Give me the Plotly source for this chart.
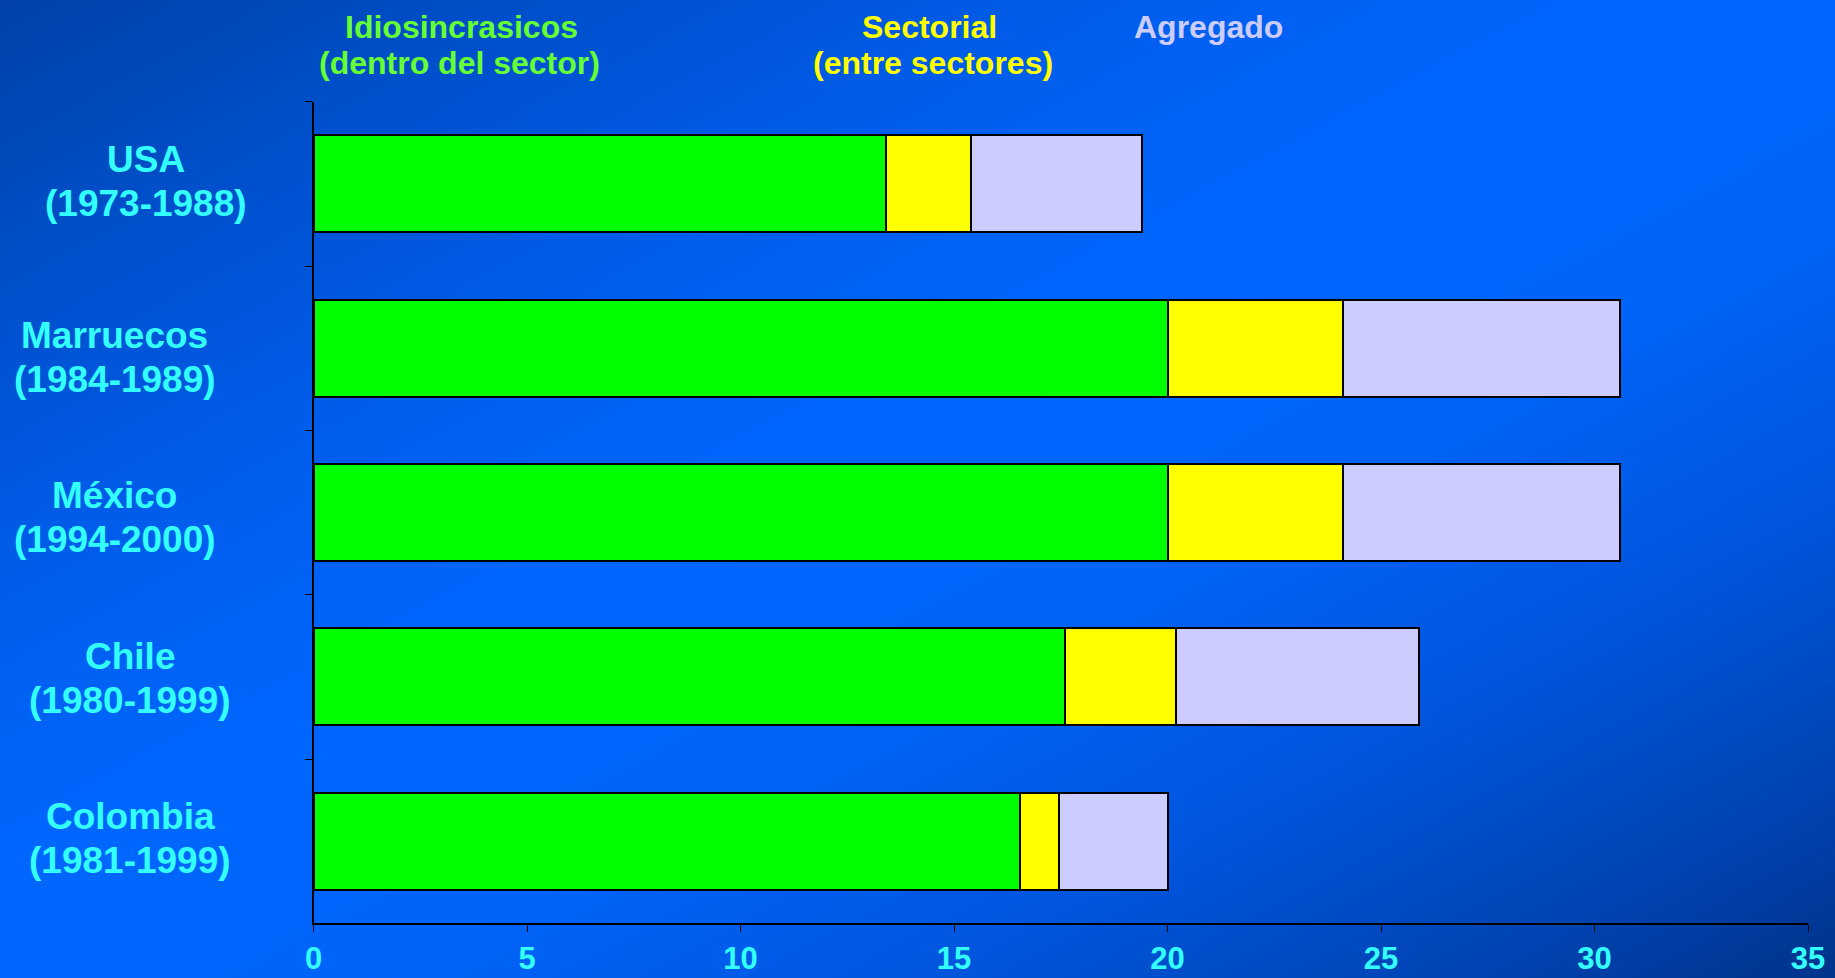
import numpy as np
import plotly.graph_objects as go

# ---- data ----
countries = ["USA", "Marruecos", "México", "Chile", "Colombia"]
periods = ["(1973-1988)", "(1984-1989)", "(1994-2000)", "(1980-1999)", "(1981-1999)"]
categories = [c + " " + p for c, p in zip(countries, periods)]
idiosincrasicos = [13.4, 20.0, 20.0, 17.6, 16.55]
sectorial = [2.0, 4.1, 4.1, 2.6, 0.9]
agregado = [4.0, 6.5, 6.5, 5.7, 2.55]
x_ticks = [0, 5, 10, 15, 20, 25, 30, 35]

series_names = ["Idiosincrasicos", "Sectorial", "Agregado"]
series_sub = ["(dentro del sector)", "(entre sectores)", ""]

# ---- styling ----
W, H = 1835, 978
FONT = "Arial, Liberation Sans, sans-serif"
fill_colors = ["#00FF00", "#FFFF00", "#CCCCFF"]
legend_colors = ["#66FF33", "#FFFF00", "#CCCCFF"]
cyan = "#33FFFF"

fig = go.Figure()

# background gradient (diagonal) drawn as a smooth heatmap on full-paper axes
n = 30
gx = np.linspace(0, 1, n)
gy = np.linspace(0, 1, n)
GX, GY = np.meshgrid(gx, gy)
T = (GX + (1 - GY)) / 2
fig.add_trace(go.Heatmap(
    x=gx, y=gy, z=T, zsmooth="best", showscale=False, hoverinfo="skip",
    zmin=0, zmax=1,
    colorscale=[[0, "#0042A8"], [0.15, "#004FCB"], [0.3, "#005DEB"],
                [0.45, "#0066FF"], [0.6, "#0064FA"], [0.75, "#0056DE"],
                [0.9, "#0043B2"], [1, "#00338A"]],
    xaxis="x", yaxis="y"))

for vals, name, col in zip([idiosincrasicos, sectorial, agregado], series_names, fill_colors):
    fig.add_trace(go.Bar(
        y=categories, x=vals, orientation="h", name=name,
        marker=dict(color=col, line=dict(color="black", width=2)),
        xaxis="x2", yaxis="y2", showlegend=False))

x0, x1 = 313.6 / W, 1808 / W
y0, y1 = 1 - 923.3 / H, 1 - 101.8 / H

fig.update_layout(
    width=W, height=H,
    margin=dict(l=0, r=0, t=0, b=0, autoexpand=False),
    paper_bgcolor="#0058E0",
    plot_bgcolor="rgba(0,0,0,0)",
    barmode="stack", bargap=0.41,
    font=dict(family=FONT),
    xaxis=dict(domain=[0, 1], range=[0, 1], visible=False, fixedrange=True,
               automargin=False),
    yaxis=dict(domain=[0, 1], range=[0, 1], visible=False, fixedrange=True,
               automargin=False),
    xaxis2=dict(domain=[x0, x1], anchor="y2", range=[0, 35], tickvals=x_ticks,
                showgrid=False, zeroline=False, showline=True, linecolor="black",
                linewidth=1.5, ticks="outside", ticklen=7, tickcolor="black",
                tickfont=dict(family=FONT, size=31, color=cyan, weight="bold"),
                ticklabelstandoff=0, automargin=False, fixedrange=True),
    yaxis2=dict(domain=[y0, y1], anchor="x2", type="category", autorange="reversed",
                showgrid=False, zeroline=False, showline=True, linecolor="black",
                linewidth=1.5, ticks="outside", ticklen=7, tickcolor="black",
                tickson="boundaries", showticklabels=False, automargin=False,
                fixedrange=True),
)

# category labels (two lines each)
label_cx = [146, 115, 115, 130, 130]
label_dy = [-24, -13, -17, -20, -25]
for cat, c, p, cx, dy in zip(categories, countries, periods, label_cx, label_dy):
    for txt, off in [(c, dy), (p, dy + 44)]:
        fig.add_annotation(x=cx / W, xref="paper", y=cat, yref="y2",
                           text=txt, showarrow=False, xanchor="center",
                           yanchor="middle", yshift=-off,
                           font=dict(family=FONT, size=37, color=cyan, weight="bold"))

# legend as coloured text at top
legend_pos = [(461, 460), (929, 933), (1208, 1208)]
for name, sub, col, (cx1, cx2) in zip(series_names, series_sub, legend_colors, legend_pos):
    fig.add_annotation(x=cx1 / W, xref="paper", y=1 - 27 / H, yref="paper",
                       text=name, showarrow=False, xanchor="center", yanchor="middle",
                       font=dict(family=FONT, size=32, color=col, weight="bold"))
    if sub:
        fig.add_annotation(x=cx2 / W, xref="paper", y=1 - 63 / H, yref="paper",
                           text=sub, showarrow=False, xanchor="center", yanchor="middle",
                           font=dict(family=FONT, size=32, color=col, weight="bold"))

fig.write_html("out.html", config={"displayModeBar": False},
               post_script="document.body.style.margin='0';"
                           "document.body.style.overflow='hidden';")
